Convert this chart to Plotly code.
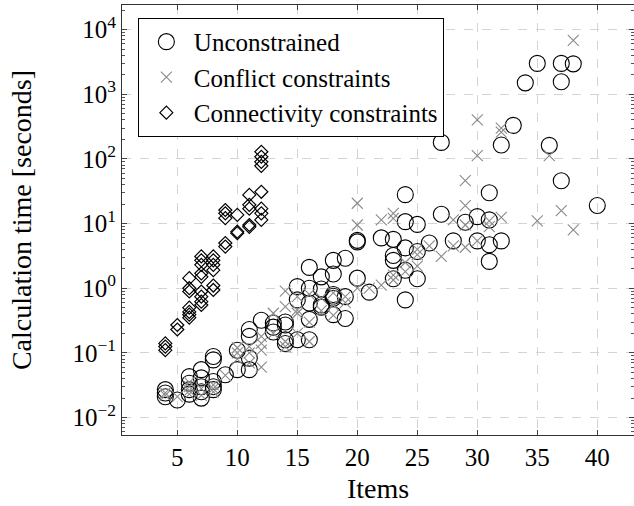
import plotly.graph_objects as go

# (items, calculation time in seconds)
unconstrained = [
    (4, 0.027), (4, 0.021), (4, 0.024), (5, 0.0187),
    (6, 0.043), (6, 0.034), (6, 0.027), (6, 0.023),
    (7, 0.055), (7, 0.041), (7, 0.030), (7, 0.020), (7, 0.025),
    (8, 0.088), (8, 0.078), (8, 0.036), (8, 0.030), (8, 0.027),
    (9, 0.046), (10, 0.11), (10, 0.055),
    (11, 0.23), (11, 0.18), (11, 0.083), (11, 0.055), (12, 0.32),
    (13, 0.29), (13, 0.25), (13, 0.21),
    (14, 0.30), (14, 0.27), (14, 0.16), (14, 0.14),
    (15, 1.06), (15, 0.66), (15, 0.16),
    (16, 2.1), (16, 1.0), (16, 0.59), (16, 0.33), (16, 0.16),
    (17, 1.5), (17, 0.97), (17, 0.55), (17, 0.51),
    (18, 2.7), (18, 1.66), (18, 0.8), (18, 0.75), (18, 0.7), (18, 0.39),
    (19, 2.9), (19, 0.74), (19, 0.34),
    (20, 5.5), (20, 5.2), (20, 1.43), (21, 0.87), (22, 6.0),
    (23, 5.7), (23, 3.2), (23, 2.7), (23, 1.4),
    (24, 28), (24, 10.7), (24, 4.2), (24, 1.9), (24, 0.66),
    (25, 9.7), (25, 3.7), (25, 1.4), (26, 5.0),
    (27, 180), (27, 13.9), (28, 5.4), (29, 10.5), (30, 12.8), (30, 5.4),
    (31, 30), (31, 11.4), (31, 4.7), (31, 2.6), (32, 164), (32, 5.4),
    (33, 330), (34, 1500), (35, 3000), (36, 162),
    (37, 3000), (37, 1560), (37, 46), (38, 2950), (40, 19),
]

conflict = [
    (4, 0.024), (4, 0.022), (5, 0.021),
    (6, 0.035), (6, 0.030), (6, 0.026), (6, 0.023), (7, 0.028), (7, 0.022),
    (8, 0.032), (8, 0.028), (8, 0.025), (9, 0.045),
    (10, 0.12), (10, 0.10), (10, 0.08), (11, 0.125), (11, 0.10), (11, 0.07),
    (12, 0.18), (12, 0.14), (12, 0.11), (12, 0.06), (13, 0.41), (13, 0.20),
    (14, 0.90), (14, 0.52), (14, 0.15), (14, 0.125),
    (15, 0.74), (15, 0.46), (15, 0.41), (15, 0.20),
    (16, 0.80), (16, 0.30), (16, 0.15), (17, 0.70), (17, 0.45),
    (18, 0.85), (18, 0.55), (18, 0.38), (19, 0.74), (19, 0.60),
    (20, 20.6), (20, 9.5), (20, 1.0), (21, 1.0), (22, 11.4), (22, 1.12),
    (23, 14.4), (23, 12.0), (23, 1.6), (23, 1.34), (24, 2.5), (24, 1.8),
    (25, 4.0), (25, 3.3), (25, 2.2), (26, 4.5), (27, 3.1), (28, 11.4), (28, 4.5),
    (29, 46), (29, 19), (29, 9.5), (29, 4.3), (30, 400), (30, 112), (30, 5.4),
    (31, 11), (31, 9), (32, 300), (32, 260), (32, 12.5), (35, 11), (36, 112),
    (37, 15.8), (38, 8), (38, 6800),
]

connectivity = [
    (4, 0.14), (4, 0.125), (4, 0.11), (5, 0.27), (5, 0.23),
    (6, 1.43), (6, 1.0), (6, 0.89), (6, 0.50), (6, 0.43), (6, 0.39), (6, 0.35),
    (7, 3.1), (7, 2.7), (7, 2.3), (7, 1.7), (7, 1.5), (7, 0.89), (7, 0.74),
    (7, 0.62), (7, 0.55),
    (8, 3.1), (8, 2.7), (8, 2.3), (8, 1.9), (8, 1.1), (8, 0.94),
    (9, 16.2), (9, 14.4), (9, 12.1), (9, 5.0), (9, 4.4),
    (10, 13.6), (10, 7.5), (10, 7.1),
    (11, 27.7), (11, 19.5), (11, 17), (11, 9.5), (11, 8.9),
    (12, 129), (12, 108), (12, 90), (12, 78), (12, 31), (12, 17), (12, 14.4),
    (12, 11.4),
]

series_names = ["Unconstrained", "Conflict constraints", "Connectivity constraints"]
x_ticks = [5, 10, 15, 20, 25, 30, 35, 40]
y_tickvals = [1e-2, 1e-1, 1e0, 1e1, 1e2, 1e3, 1e4]
y_ticktext = ["10<sup>−2</sup>", "10<sup>−1</sup>", "10<sup>0</sup>", "10<sup>1</sup>",
              "10<sup>2</sup>", "10<sup>3</sup>", "10<sup>4</sup>"]

FONT = "'Liberation Serif', 'DejaVu Serif', serif"

fig = go.Figure()
fig.add_trace(go.Scatter(
    x=[p[0] for p in unconstrained], y=[p[1] for p in unconstrained],
    mode="markers", name=series_names[0],
    marker=dict(symbol="circle-open", size=16, color="black", line=dict(width=1.1, color="black")),
))
fig.add_trace(go.Scatter(
    x=[p[0] for p in conflict], y=[p[1] for p in conflict],
    mode="markers", name=series_names[1],
    marker=dict(symbol="x-thin-open", size=11, color="#8a8a8a", line=dict(width=1.1, color="#8a8a8a")),
))
fig.add_trace(go.Scatter(
    x=[p[0] for p in connectivity], y=[p[1] for p in connectivity],
    mode="markers", name=series_names[2],
    marker=dict(symbol="diamond-open", size=10, color="black", line=dict(width=1.2, color="black")),
))

axis_common = dict(
    showline=True, linecolor="#333333", linewidth=1, mirror="ticks",
    ticks="inside", ticklen=5, tickcolor="#444444",
    showgrid=True, gridcolor="#d4d4d4", griddash="dash", gridwidth=1,
    zeroline=False,
    tickfont=dict(family=FONT, size=25, color="black"),
)

fig.update_xaxes(
    **axis_common,
    range=[0.39, 43.06], tickvals=x_ticks,
    title=dict(text="Items", font=dict(family=FONT, size=28, color="black"), standoff=8),
)
fig.update_yaxes(
    **axis_common,
    type="log", range=[-2.27, 4.38],
    tickvals=y_tickvals, ticktext=y_ticktext,
    minor=dict(ticks="inside", ticklen=3, dtick="D1", tickcolor="#555555", showgrid=False),
    title=dict(text="Calculation time [seconds]", font=dict(family=FONT, size=28, color="black"), standoff=32),
)

fig.update_layout(
    width=634, height=506,
    margin=dict(l=122, r=0, t=5, b=71),
    paper_bgcolor="white", plot_bgcolor="white",
    font=dict(family=FONT, size=25, color="black"),
    showlegend=True,
    legend=dict(
        x=0.031, y=0.97, xanchor="left", yanchor="top",
        bgcolor="white", bordercolor="black", borderwidth=1,
        font=dict(family=FONT, size=25, color="black"),
        itemwidth=45, tracegroupgap=0,
    ),
)

fig.write_html("out.html")
